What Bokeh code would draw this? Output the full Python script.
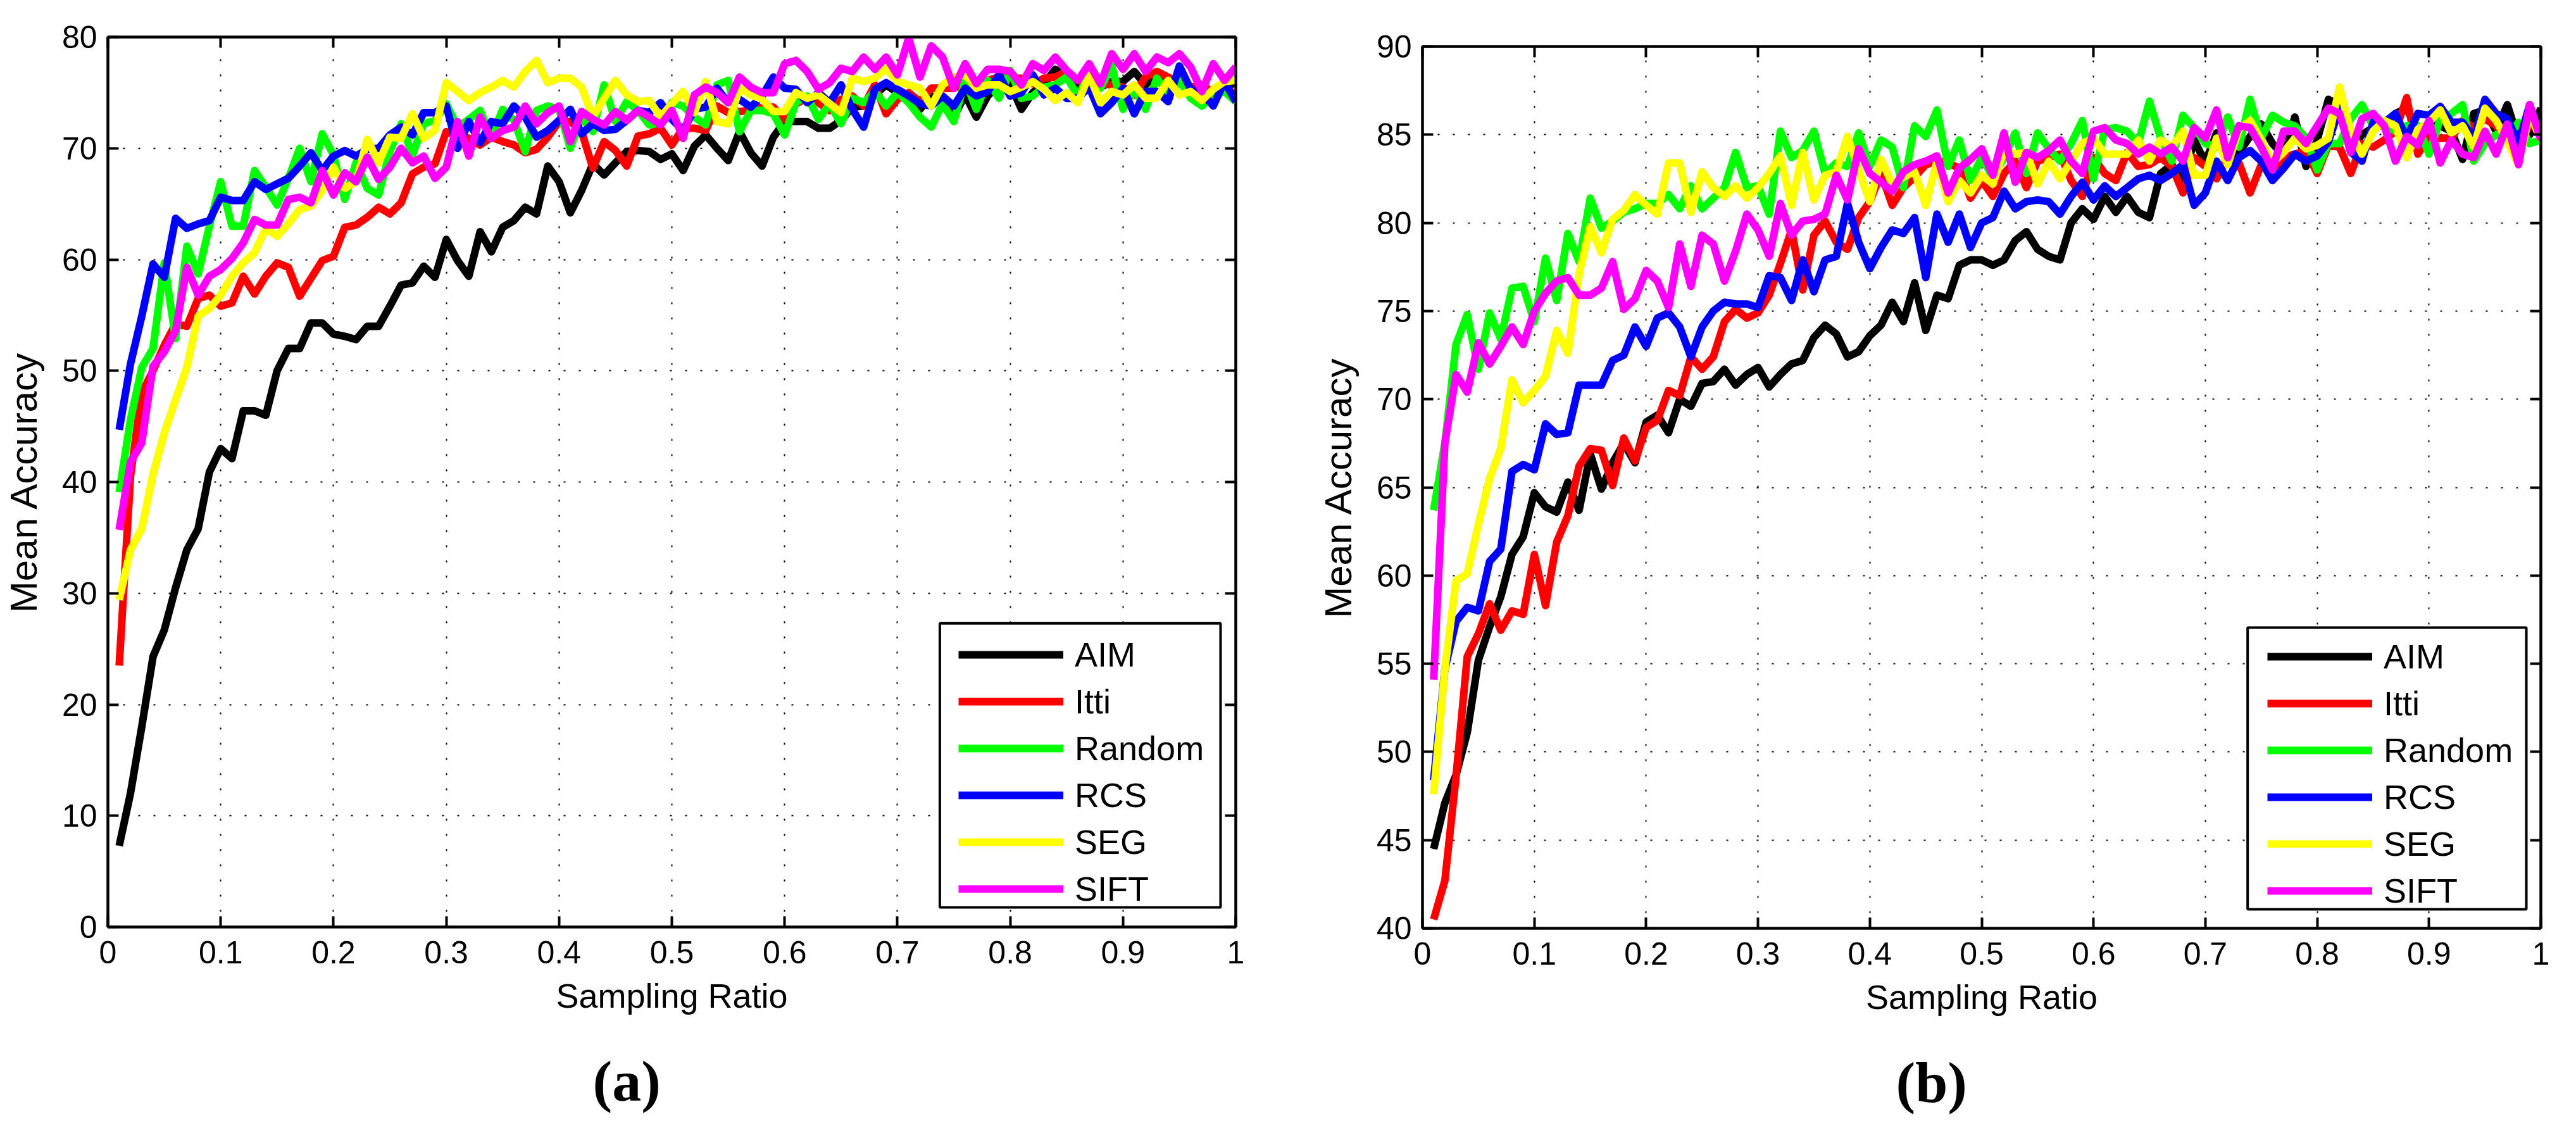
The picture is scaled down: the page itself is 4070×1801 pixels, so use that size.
from bokeh.embed import file_html
from bokeh.layouts import column, row
from bokeh.models import BoxAnnotation, CustomJSTickFormatter, FixedTicker, Legend, LegendItem, LinearAxis, Range1d, Title
from bokeh.plotting import figure
from bokeh.resources import INLINE

sampling_ratio = [(i + 1) / 100 for i in range(100)]
x_ticks = [0, 0.1, 0.2, 0.3, 0.4, 0.5, 0.6, 0.7, 0.8, 0.9, 1]
x_tick_labels = ['0', '0.1', '0.2', '0.3', '0.4', '0.5', '0.6', '0.7', '0.8', '0.9', '1']
y_ticks_a = [0, 10, 20, 30, 40, 50, 60, 70, 80]
y_ticks_b = [40, 45, 50, 55, 60, 65, 70, 75, 80, 85, 90]
names = ['AIM', 'Itti', 'Random', 'RCS', 'SEG', 'SIFT']
colors = ['#000000', '#ff0000', '#00ff00', '#0000ff', '#ffff00', '#ff00ff']

# panel (a), values
aim_a = [7.3, 12, 18, 24.3, 26.7, 30.5, 33.9, 35.8, 40.9, 43, 42.1, 46.4, 46.4, 46, 50, 52, 52, 54.3, 54.3, 53.3,
         53.1, 52.8, 54, 54, 55.8, 57.7, 57.9, 59.4, 58.4, 61.8, 59.9, 58.5, 62.5, 60.7, 62.9, 63.5, 64.7, 64.1, 68.4, 67,
         64.2, 66.2, 68.6, 67.6, 68.7, 69.7, 69.8, 69.7, 69, 69.5, 68, 70.2, 71.2, 70, 68.9, 71.5, 69.6, 68.4, 71, 72.4,
         72.4, 72.4, 71.8, 71.8, 72.5, 73.7, 73.8, 74.8, 75.7, 75, 74.7, 73.5, 74.7, 74.1, 72.8, 74.8, 72.8, 74.7, 75.7, 75.8,
         73.5, 75, 75.8, 77.1, 76.4, 75.7, 76.1, 75.5, 76, 76, 76.9, 75.7, 76.7, 76.3, 76.1, 75, 75.1, 74.7, 75.3, 76]
itti_a = [23.5, 40.5, 48, 50, 52.3, 54.2, 54, 56.5, 56.8, 55.8, 56.1, 58.5, 56.9, 58.5, 59.7, 59.3, 56.7, 58.3, 59.9, 60.3,
          62.9, 63.1, 63.8, 64.7, 64.1, 65.1, 67.7, 68.3, 68.6, 71.5, 71.2, 70.9, 70.3, 71, 70.6, 70.3, 69.6, 69.9, 71, 72.4,
          72.4, 71.5, 68.2, 70.6, 69.8, 68.4, 71.1, 71.3, 71.8, 70.3, 71.8, 71.8, 71.6, 73.8, 73.2, 73.3, 73.4, 73.7, 73.7, 72.6,
          74, 74.5, 74.1, 73.4, 74.4, 74.7, 73.8, 75.7, 73.1, 74.4, 75, 74.2, 75.4, 75.4, 75.4, 75.8, 75.7, 76.1, 76.4, 76.3,
          76.3, 75.8, 76.3, 76.4, 76.9, 76.1, 75.7, 75.8, 75.7, 75.5, 74.8, 76.4, 76.9, 76.4, 75.8, 75.5, 75.7, 75, 75.5, 74.8]
random_a = [39.1, 45.6, 50.3, 52, 59.7, 52.9, 61.2, 58.7, 63, 67, 63, 63, 68, 66.5, 64.9, 67.3, 70, 67, 71.3, 69.4,
            65.4, 68.7, 66.4, 65.8, 69.7, 72.2, 69.4, 72.2, 72.5, 74, 71.9, 72.6, 73.4, 70.9, 73.5, 72.5, 69.7, 73.4, 73.8, 73.5,
            70, 72.8, 71.5, 75.7, 72.4, 74.2, 73.4, 72.1, 72.3, 74.1, 73.8, 72.8, 72.1, 75.7, 76.1, 71.5, 73.4, 73.4, 73.1, 71.2,
            74.1, 74.7, 72.6, 74, 72.2, 74.5, 74.1, 75.1, 73.8, 75, 74.1, 72.8, 71.9, 74, 72.4, 76.1, 73.5, 76.1, 74.5, 77,
            74.5, 74.7, 75.5, 75.7, 76.4, 74.7, 76.6, 75.4, 77.4, 73.5, 75.3, 73.5, 76.3, 75, 76.1, 74.5, 73.8, 74.7, 75.1, 74.2]
rcs_a = [44.7, 50.6, 54.9, 59.6, 58.4, 63.7, 62.8, 63.2, 63.5, 65.6, 65.3, 65.3, 67, 66.3, 66.8, 67.3, 68.4, 69.6, 68, 69.3,
         69.8, 69.3, 69.9, 70, 71.2, 71.9, 71.2, 73.2, 73.2, 73.8, 70, 72.4, 70.5, 72.4, 72.2, 73.8, 72.8, 71, 71.6, 72.5,
         73.5, 71.3, 72.2, 71.6, 71.7, 72.5, 73.4, 73.2, 74.1, 72.6, 71.6, 73.5, 73.7, 75.4, 74.1, 74.4, 73.7, 74.7, 76.4, 75.4,
         75.3, 74.1, 75, 74.1, 75.7, 73.5, 71.9, 75.3, 75.9, 75.3, 74.7, 74, 73.8, 74.7, 73.8, 75.4, 74.7, 75.1, 76.6, 74.7,
         75, 76.6, 74.8, 75.4, 74.5, 74.5, 75.5, 73.1, 74.1, 75.4, 73.1, 75.1, 75.1, 74.2, 77.4, 75.3, 75, 73.8, 76, 74.2]
seg_a = [29.4, 33.9, 35.8, 40.7, 44.4, 47.4, 50.3, 54.9, 55.6, 56.8, 58.5, 59.7, 60.6, 62.8, 62.1, 63.2, 64.5, 64.8, 66.2, 68.3,
         66.4, 67, 70.8, 68.7, 71, 70.9, 73.1, 70.9, 71.6, 75.9, 75.1, 74.3, 75, 75.5, 76.1, 75.5, 76.9, 77.9, 75.9, 76.3,
         76.3, 75.5, 72.8, 74.5, 76.1, 74.8, 74.2, 74.3, 72.8, 74, 75.1, 73.2, 76, 72.4, 72.2, 75.4, 74.8, 74.4, 73.3, 73.3,
         75, 74.5, 74.8, 74, 73.2, 76.3, 76, 76.3, 77.2, 76, 75.7, 75.4, 73.8, 75.7, 76.4, 76.6, 75.4, 75.7, 75.7, 75.1,
         75.5, 76, 75.3, 74.3, 75, 74.1, 76.6, 74.1, 75.1, 74.8, 75.7, 74.5, 74.5, 76.1, 74.8, 75.1, 74.3, 75.3, 76, 76.1]
sift_a = [35.7, 41.8, 43.5, 50.4, 51.7, 53.6, 59.3, 56.8, 58.5, 59.1, 60.1, 61.5, 63.6, 63.1, 63.1, 65.4, 65.6, 65.1, 68, 65.8,
          67.8, 67, 69.2, 67.2, 68.3, 70, 68.7, 69.3, 67.3, 68.3, 72.4, 69.3, 72.8, 70.9, 71.6, 71.9, 73.8, 72.2, 73.2, 73.8,
          70.6, 73.3, 72.6, 72.1, 73.3, 72.5, 73.4, 72.8, 72.1, 73.4, 70.9, 74.8, 75.5, 75, 74.1, 76.4, 75.5, 75, 75, 77.6,
          77.9, 76.9, 75.3, 75.9, 77.2, 76.9, 78.2, 77.1, 78.2, 76.6, 79.9, 76.4, 79.2, 78.2, 75.4, 77.6, 75.8, 77.1, 77.1, 76.9,
          75.7, 77.6, 77, 78.2, 77, 76.1, 77.6, 75.8, 78.5, 77.1, 78.5, 76.9, 78.2, 77.7, 78.5, 77.3, 75.1, 77.6, 76.1, 77.3]

# panel (b)
aim_b = [44.5, 47.1, 48.7, 51.1, 55.2, 57.1, 58.8, 61.2, 62.2, 64.7, 63.9, 63.6, 65.3, 63.7, 66.9, 64.9, 66.4, 67.5, 66.4, 68.7,
         69.1, 68.1, 70, 69.6, 70.9, 71, 71.7, 70.8, 71.4, 71.8, 70.7, 71.4, 72, 72.2, 73.5, 74.2, 73.7, 72.4, 72.7, 73.6,
         74.2, 75.5, 74.4, 76.6, 73.9, 75.9, 75.7, 77.6, 77.9, 77.9, 77.6, 77.9, 79, 79.5, 78.5, 78.1, 77.9, 80, 80.8, 80.2,
         81.5, 80.6, 81.5, 80.6, 80.3, 82.8, 83.3, 82.3, 84.7, 83.4, 85.1, 83.8, 84, 84.9, 85.6, 84.5, 83.8, 86, 83.2, 84.7,
         87, 86.7, 84.1, 85, 85.4, 85.6, 86.2, 86.5, 85.2, 85.6, 85.5, 85.2, 83.6, 86.2, 86.4, 85.2, 86.7, 84.7, 85, 86.5]
itti_b = [40.5, 42.7, 48.6, 55.4, 56.7, 58.4, 56.9, 58, 57.8, 61.2, 58.3, 61.9, 63.4, 66.2, 67.2, 67.1, 65.1, 67.8, 66.5, 68.4,
          68.8, 70.5, 70.2, 72.4, 71.7, 72.4, 74.4, 75.1, 74.6, 74.9, 75.9, 77.7, 79.6, 76.2, 79.3, 80.1, 78.9, 78.5, 80.3, 81.2,
          82.8, 81, 82, 82.6, 83.3, 83.5, 83.4, 83.1, 81.4, 82.4, 81.5, 82.8, 83.5, 82, 83.5, 83.7, 83.9, 82.4, 81.5, 83.7,
          82.8, 82.4, 84, 83.2, 83.3, 83.7, 83.2, 81.7, 83.7, 83.2, 82.5, 83.7, 83.4, 81.7, 83.3, 83, 83.7, 83.9, 84.1, 82.8,
          84.4, 84.3, 82.8, 84.5, 84.3, 84.7, 85.2, 87.1, 83.9, 84.9, 84.8, 84.8, 85.8, 85.4, 85.9, 85.5, 84.7, 84.3, 85.6, 85.4]
random_b = [63.7, 67.5, 73.1, 74.8, 71.7, 74.9, 73.4, 76.3, 76.4, 74.4, 78, 75.6, 79.4, 77.8, 81.4, 79.7, 80.1, 80.6, 80.8, 81.1,
            81.1, 81.6, 80.8, 82.1, 80.8, 81.4, 82, 84, 82, 82.1, 80.5, 85.2, 83.7, 84.1, 85.2, 82.8, 83.4, 83.2, 85.1, 83.2,
            84.7, 84.3, 82, 85.5, 84.9, 86.4, 83.2, 84.7, 82.4, 83.7, 82.6, 83.7, 85.1, 82.8, 85.1, 84.2, 83.5, 84.5, 85.8, 82.5,
            85.3, 85.4, 85.2, 84.5, 86.9, 84.8, 83.5, 86.1, 85.4, 84.5, 84.3, 86, 84.3, 87, 84.8, 86.1, 85.7, 85.5, 84.8, 83,
            84.5, 84.5, 85.9, 86.7, 85.5, 85.5, 85.2, 85.5, 85.5, 83.9, 85.9, 86.2, 86.7, 83.5, 84.5, 85, 84.8, 85.7, 84.5, 84.7]
rcs_b = [48.4, 54.7, 57.4, 58.2, 58, 60.8, 61.5, 65.9, 66.3, 66, 68.6, 68, 68.1, 70.8, 70.8, 70.8, 72.2, 72.5, 74.1, 73,
         74.6, 74.9, 74.1, 72.4, 74.1, 75, 75.5, 75.4, 75.4, 75.2, 77, 76.9, 75.6, 77.9, 76.1, 77.9, 78.1, 81.1, 78.9, 77.4,
         78.6, 79.6, 79.4, 80.3, 76.9, 80.5, 78.9, 80.5, 78.6, 80, 80.3, 81.8, 80.8, 81.2, 81.3, 81.2, 80.5, 81.5, 82.3, 81.3,
         82.1, 81.5, 82, 82.5, 82.7, 82.4, 82.8, 83.3, 81, 81.7, 83.5, 82.4, 83.7, 84.1, 83.5, 82.4, 83.1, 83.9, 83.5, 83.8,
         84.6, 86.5, 84, 83.5, 85.7, 85.7, 86.2, 84.8, 86.2, 86.1, 86.6, 85.7, 85.7, 84.8, 87, 86.2, 85.9, 84.5, 86.7, 84.8]
seg_b = [47.6, 54.7, 59.7, 60.1, 62.9, 65.5, 67.2, 71.1, 69.8, 70.5, 71.3, 73.9, 72.6, 77.1, 79.8, 78.3, 80.2, 80.7, 81.6, 81,
         80.5, 83.4, 83.4, 80.6, 82.9, 82, 81.5, 82.1, 81.4, 82, 82.8, 83.8, 81, 84, 81.3, 82.7, 82.9, 84.9, 83, 81.2,
         83.6, 82.2, 82.6, 82.9, 81, 83.5, 81.2, 82.4, 81.7, 82.7, 82.2, 84.1, 83.9, 84, 82.2, 83.5, 82.5, 83.5, 84.5, 84.8,
         83.9, 83.9, 83.9, 84.7, 83.5, 84.7, 84.3, 85.2, 82.7, 82.7, 84.8, 83.3, 85.3, 85.8, 84.7, 83.4, 84, 84.8, 84.2, 84.4,
         84.8, 87.7, 85.2, 83.9, 85.2, 85.8, 85.5, 83.7, 85.3, 85.7, 86.4, 85.1, 85.5, 84.3, 86.5, 85.8, 84.6, 83.3, 86.2, 84.7]
sift_b = [54.1, 67.5, 71.4, 70.4, 73.2, 72, 73, 74.1, 73.1, 75, 76, 76.7, 76.9, 75.9, 75.9, 76.3, 77.8, 75.1, 75.7, 77.3,
          76.7, 75.2, 78.8, 76.4, 79.3, 78.8, 76.7, 78.4, 80.5, 79.6, 78.1, 81.1, 79.3, 80.1, 80.2, 80.5, 82.7, 81.3, 84.2, 82.8,
          82.3, 81.8, 82.9, 83.3, 83.5, 83.8, 81.7, 83.1, 83.6, 84.2, 82.7, 85.1, 82.3, 84, 83.7, 84.1, 84.7, 83.5, 82.8, 85.2,
          85.4, 84.7, 84.5, 83.9, 84.3, 83.9, 84.3, 83.5, 85.4, 84.8, 86.4, 83.7, 85.5, 85.4, 84.3, 83, 85.2, 85.2, 84.5, 85.5,
          86.5, 86.2, 84, 85.9, 86.2, 85.5, 83.5, 84.9, 84.4, 85.8, 83.4, 84.7, 83.9, 83.7, 85.2, 83.9, 85.6, 83.3, 86.7, 84.7]


def accuracy_plot(series, y_ticks, panel_label, label_offset, legend_box, legend_pos, borders, frame_size):
    """Builds one Mean Accuracy panel, MATLAB look: boxed axes, ticks pointing in, dotted grid"""
    left, right, top, bottom = borders
    p = figure(frame_width=frame_size[0], frame_height=frame_size[1],
               x_range=Range1d(0, 1), y_range=Range1d(y_ticks[0], y_ticks[-1]),
               min_border_left=left, min_border_right=right, min_border_top=top, min_border_bottom=bottom,
               output_backend="svg", toolbar_location=None, tools='',
               x_axis_label='Sampling Ratio', y_axis_label='Mean Accuracy')
    p.outline_line_color = 'black'
    p.outline_line_width = 4
    p.background_fill_color = 'white'

    items = []
    for name, color, values in zip(names, colors, series):
        r = p.line(sampling_ratio, values, line_color=color, line_width=12, line_join='round')
        items.append(LegendItem(label=name, renderers=[r]))

    p.xaxis.ticker = FixedTicker(ticks=x_ticks)
    p.yaxis.ticker = FixedTicker(ticks=y_ticks)
    p.xaxis.major_label_overrides = dict(zip(x_ticks, x_tick_labels))
    p.xaxis.major_label_standoff = 22
    p.yaxis.major_label_standoff = 17
    p.xaxis.axis_label_standoff = 18
    p.yaxis.axis_label_standoff = 24
    p.xaxis.axis_label_text_font_size = '54px'
    p.yaxis.axis_label_text_font_size = '60px'
    for axis in [p.xaxis, p.yaxis]:
        axis.major_label_text_font = 'Liberation Sans'
        axis.major_label_text_font_size = '50px'
        axis.major_label_text_color = 'black'
        axis.axis_label_text_font = 'Liberation Sans'
        axis.axis_label_text_font_style = 'normal'
        axis.axis_label_text_color = 'black'
    p.yaxis.major_label_orientation = 'horizontal'

    # second x and y axis only for the ticks on the top and right of the box
    p.add_layout(LinearAxis(ticker=FixedTicker(ticks=x_ticks), formatter=CustomJSTickFormatter(code="return ''")), 'above')
    p.add_layout(LinearAxis(ticker=FixedTicker(ticks=y_ticks), formatter=CustomJSTickFormatter(code="return ''")), 'right')
    for axis in p.axis:
        axis.axis_line_color = 'black'
        axis.axis_line_width = 4
        axis.major_tick_line_color = 'black'
        axis.major_tick_line_width = 4
        axis.major_tick_in = 17
        axis.major_tick_out = 0
        axis.minor_tick_line_color = None

    p.xgrid.ticker = FixedTicker(ticks=x_ticks)
    p.ygrid.ticker = FixedTicker(ticks=y_ticks)
    for grid in [p.xgrid, p.ygrid]:
        grid.grid_line_color = 'black'
        grid.grid_line_width = 2
        grid.grid_line_dash = [3, 21]

    # the legend can't have different side and top padding, so the frame is its own box
    p.add_layout(BoxAnnotation(left=legend_box[0], right=legend_box[1], top=legend_box[2], bottom=legend_box[3],
                               fill_color='white', fill_alpha=1, line_color='black', line_width=4, line_alpha=1))
    legend = Legend(items=items, location=legend_pos, padding=0, spacing=12, label_height=56, glyph_height=56,
                    glyph_width=166, label_standoff=18, label_text_font='Liberation Sans',
                    label_text_font_size='54px', label_text_color='black', border_line_color=None,
                    background_fill_color=None)
    p.add_layout(legend, 'center')

    p.add_layout(Title(text=panel_label, text_font='Liberation Serif', text_font_style='bold', text_font_size='92px',
                       text_color='black', align='left', offset=label_offset, standoff=98), 'below')
    return p


plot_a = accuracy_plot([aim_a, itti_a, random_a, rcs_a, seg_a, sift_a], y_ticks_a, '(a)', 766,
                       (0.7376, 0.9865, 27.3, 1.77), (1344, 29), (170, 40, 58, 312), (1782, 1406))
plot_b = accuracy_plot([aim_b, itti_b, random_b, rcs_b, seg_b, sift_b], y_ticks_b, '(b)', 748,
                       (0.7378, 0.987, 57.05, 41.08), (1335, 28), (255, 40, 73, 308), (1767, 1393))

# each panel sits in its own column, otherwise row() lines up the two frame tops
open("out.html", "w").write(file_html(row(column(plot_a), column(plot_b)), INLINE))
